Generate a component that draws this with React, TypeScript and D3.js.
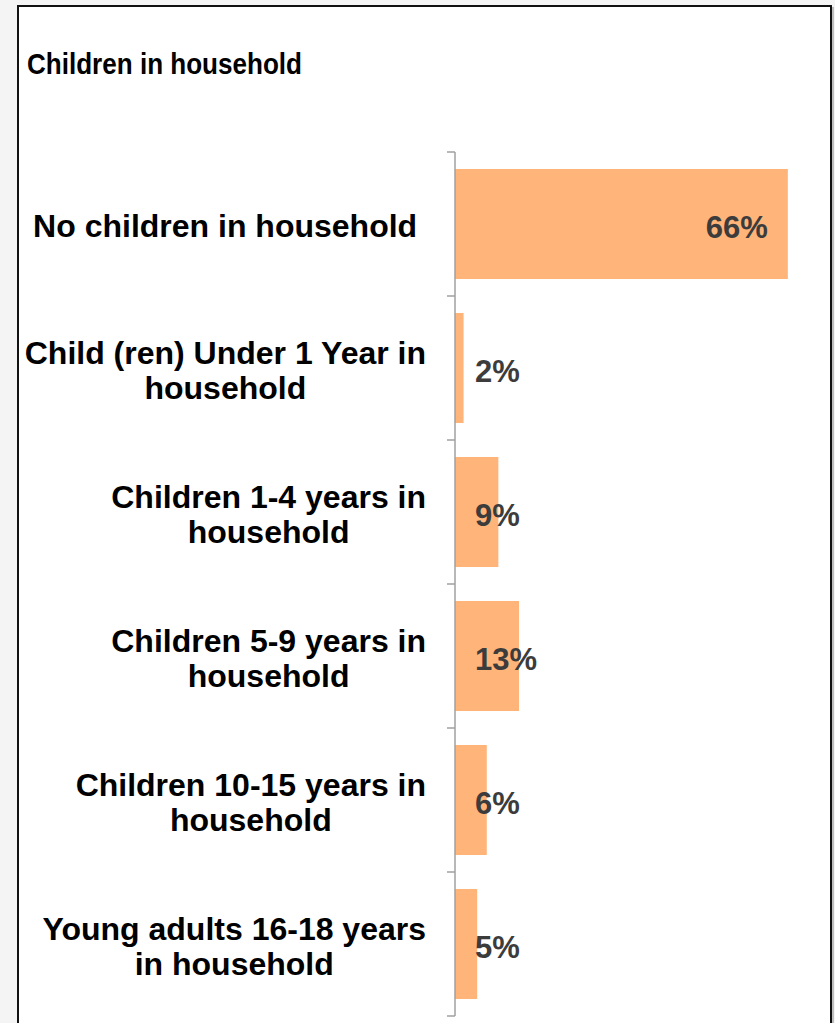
import React, { useEffect, useRef } from "react";
import * as d3 from "d3";

const title = "Children in household";
const categories = [
  "No children in household",
  "Child (ren) Under 1 Year in household",
  "Children 1-4 years in household",
  "Children 5-9 years in household",
  "Children 10-15 years in household",
  "Young adults 16-18 years in household",
];
const categoryLines = [
  ["No children in household "],
  ["Child (ren) Under 1 Year in", "household"],
  ["Children 1-4 years in", "household"],
  ["Children 5-9 years in", "household"],
  ["Children 10-15 years in", "household"],
  ["Young adults 16-18 years", "in household"],
];
const values = [66, 1.7, 8.6, 12.7, 6.3, 4.4];
const valueLabels = ["66%", "2%", "9%", "13%", "6%", "5%"];

const W = 835;
const H = 1023;
const FONT = "'Liberation Sans', Arial, Helvetica, sans-serif";

export default function App() {
  const ref = useRef<SVGSVGElement | null>(null);

  useEffect(() => {
    const svg = d3.select(ref.current);
    svg.selectAll("*").remove();

    // background + frame
    svg.append("rect").attr("x", 0).attr("y", 0).attr("width", W).attr("height", H).attr("fill", "#f4f4f4");
    svg.append("rect").attr("x", 18).attr("y", 6).attr("width", 813).attr("height", H + 20)
      .attr("fill", "#ffffff").attr("stroke", "#111").attr("stroke-width", 2);
    svg.append("line").attr("x1", 833).attr("x2", 833).attr("y1", 7).attr("y2", H)
      .attr("stroke", "#888").attr("stroke-width", 1);

    // title
    svg.append("text").attr("x", 27).attr("y", 74).text(title)
      .attr("font-family", "'Liberation Sans Narrow', 'Arial Narrow', " + FONT)
      .attr("font-weight", "bold").attr("font-size", 30).attr("fill", "#000")
      .attr("textLength", 275).attr("lengthAdjust", "spacingAndGlyphs");

    const y = d3.scaleBand<string>().domain(categories).range([152, 1016])
      .paddingInner(0.236).paddingOuter(0.118);
    const x = d3.scaleLinear().domain([0, 70]).range([455, 808]);

    // bars
    svg.append("g").selectAll("rect").data(values).join("rect")
      .attr("x", x(0))
      .attr("y", (_, i) => y(categories[i])!)
      .attr("width", (d) => x(d) - x(0))
      .attr("height", y.bandwidth())
      .attr("fill", "#ffb47a");

    // axis
    const step = y.step();
    const ax = svg.append("g");
    ax.append("line").attr("x1", x(0)).attr("x2", x(0)).attr("y1", 152).attr("y2", 1016)
      .attr("stroke", "#a0a0a0").attr("stroke-width", 1.5);
    d3.range(categories.length + 1).forEach((i) => {
      const yy = 152 + i * step;
      ax.append("line").attr("x1", x(0) - 8).attr("x2", x(0)).attr("y1", yy).attr("y2", yy)
        .attr("stroke", "#a0a0a0").attr("stroke-width", 1.5);
    });

    // category labels
    const right = 426;
    categories.forEach((c, i) => {
      const lines = categoryLines[i];
      const center = y(c)! + y.bandwidth() / 2;
      const lh = 35;
      const g = svg.append("g");
      const texts = lines.map((ln, j) =>
        g.append("text").text(ln)
          .attr("xml:space", "preserve").style("white-space", "pre")
          .attr("font-family", FONT).attr("font-weight", "bold").attr("font-size", 32)
          .attr("fill", "#000").attr("text-anchor", "middle")
          .attr("y", center + 13 - ((lines.length - 1) * lh) / 2 + j * lh)
      );
      const widths = texts.map((t) => (t.node() as SVGTextElement).getComputedTextLength());
      const maxW = Math.max(...widths);
      texts.forEach((t) => t.attr("x", right - maxW / 2));
    });

    // value labels
    values.forEach((v, i) => {
      const t = svg.append("text").text(valueLabels[i])
        .attr("font-family", FONT).attr("font-weight", "bold").attr("font-size", 31)
        .attr("fill", "#3c3c3c")
        .attr("y", y(categories[i])! + y.bandwidth() / 2 + 14);
      const w = (t.node() as SVGTextElement).getComputedTextLength();
      const xx = Math.max(x(0) + 20, x(v) - 20 - w);
      t.attr("x", xx);
    });
  }, []);

  return (
    <div style={{ position: "fixed", left: 0, top: 0, width: W, height: H, overflow: "hidden" }}>
      <svg ref={ref} width={W} height={H} style={{ display: "block" }} />
    </div>
  );
}
